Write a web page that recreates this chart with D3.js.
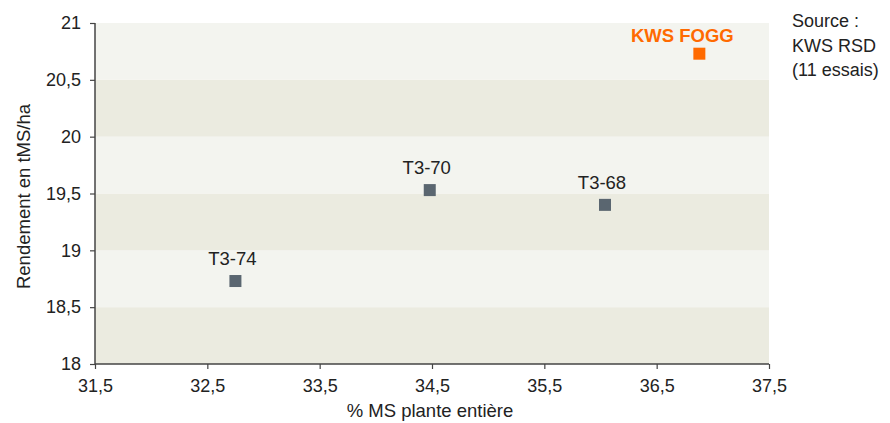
<!DOCTYPE html>
<html lang="fr">
<head>
<meta charset="UTF-8">
<title>Rendement vs % MS</title>
<script src="https://cdnjs.cloudflare.com/ajax/libs/d3/7.8.5/d3.min.js"></script>
<style>
  body { margin: 0; background: #fff; }
  svg { display: block; font-family: "Liberation Sans", Arial, sans-serif; }
  .tick text { font-size: 18px; fill: #222; }
  .lbl { font-size: 18.5px; fill: #222; text-anchor: middle; }
</style>
</head>
<body>
<svg id="chart" width="890" height="423"></svg>
<script>
// data
const names = ["T3-74", "T3-70", "T3-68", "KWS FOGG"];
const msValues = [32.75, 34.48, 36.04, 36.88];
const yieldValues = [18.73, 19.53, 19.40, 20.73];
const xTicks = [31.5, 32.5, 33.5, 34.5, 35.5, 36.5, 37.5];
const yTicks = [18, 18.5, 19, 19.5, 20, 20.5, 21];
const sourceLines = ["Source :", "KWS RSD", "(11 essais)"];

const svg = d3.select("#chart");
const m = { left: 95, right: 121, top: 23, bottom: 59 };
const W = 890, H = 423;

const x = d3.scaleLinear().domain([31.5, 37.5]).range([m.left, W - m.right]);
const y = d3.scaleLinear().domain([18, 21]).range([H - m.bottom, m.top]);
const fmt = d => String(d).replace(".", ",");

// alternating bands
const bands = yTicks.slice(0, -1).map((v, i) => ({ lo: v, hi: yTicks[i + 1], dark: i % 2 === 0 }));
svg.append("g").selectAll("rect").data(bands).join("rect")
  .attr("x", x(31.5))
  .attr("width", x(37.5) - x(31.5))
  .attr("y", d => y(d.hi))
  .attr("height", d => y(d.lo) - y(d.hi))
  .attr("fill", d => d.dark ? "#ebebe0" : "#f3f4ef");

// axes
const xAxis = svg.append("g")
  .attr("transform", `translate(0,${y(18)})`)
  .call(d3.axisBottom(x).tickValues(xTicks).tickFormat(fmt).tickSize(5).tickPadding(10));
const yAxis = svg.append("g")
  .attr("transform", `translate(${x(31.5)},0)`)
  .call(d3.axisLeft(y).tickValues(yTicks).tickFormat(fmt).tickSize(5).tickPadding(9));
[xAxis, yAxis].forEach(g => {
  g.select(".domain").attr("stroke", "#444").attr("stroke-width", 1.5);
  g.selectAll(".tick line").attr("stroke", "#444").attr("stroke-width", 1.2);
});
xAxis.select(".domain").attr("d", `M${x(31.5)},0H${x(37.5)}`);
yAxis.select(".domain").attr("d", `M0,${y(18)}V${y(21)}`);

// axis titles
svg.append("text").attr("class", "lbl")
  .attr("x", (x(31.5) + x(37.5)) / 2 - 2).attr("y", 417)
  .text("% MS plante entière");
svg.append("text").attr("class", "lbl")
  .attr("transform", `translate(30,${(y(18) + y(21)) / 2 + 3}) rotate(-90)`)
  .text("Rendement en tMS/ha");

// points
const pts = names.map((n, i) => ({ name: n, ms: msValues[i], rdt: yieldValues[i], hl: n === "KWS FOGG" }));
const s = 12;
svg.append("g").selectAll("rect").data(pts).join("rect")
  .attr("x", d => x(d.ms) - s / 2)
  .attr("y", d => y(d.rdt) - s / 2)
  .attr("width", s).attr("height", s)
  .attr("fill", d => d.hl ? "#ff6a00" : "#5a6670");

svg.append("g").selectAll("text").data(pts).join("text")
  .attr("class", "lbl")
  .attr("x", d => x(d.ms) + (d.hl ? -17 : -3))
  .attr("y", d => y(d.rdt) - (d.hl ? 12 : 16))
  .style("fill", d => d.hl ? "#ff6a00" : "#222")
  .attr("font-weight", d => d.hl ? "bold" : "normal")
  .text(d => d.name);

// source note
svg.append("text").attr("x", 792).attr("y", 27)
  .style("font-size", "18px").attr("fill", "#222")
  .selectAll("tspan").data(sourceLines).join("tspan")
  .attr("x", 792).attr("dy", (d, i) => i === 0 ? 0 : 24.5)
  .text(d => d);
</script>
</body>
</html>
